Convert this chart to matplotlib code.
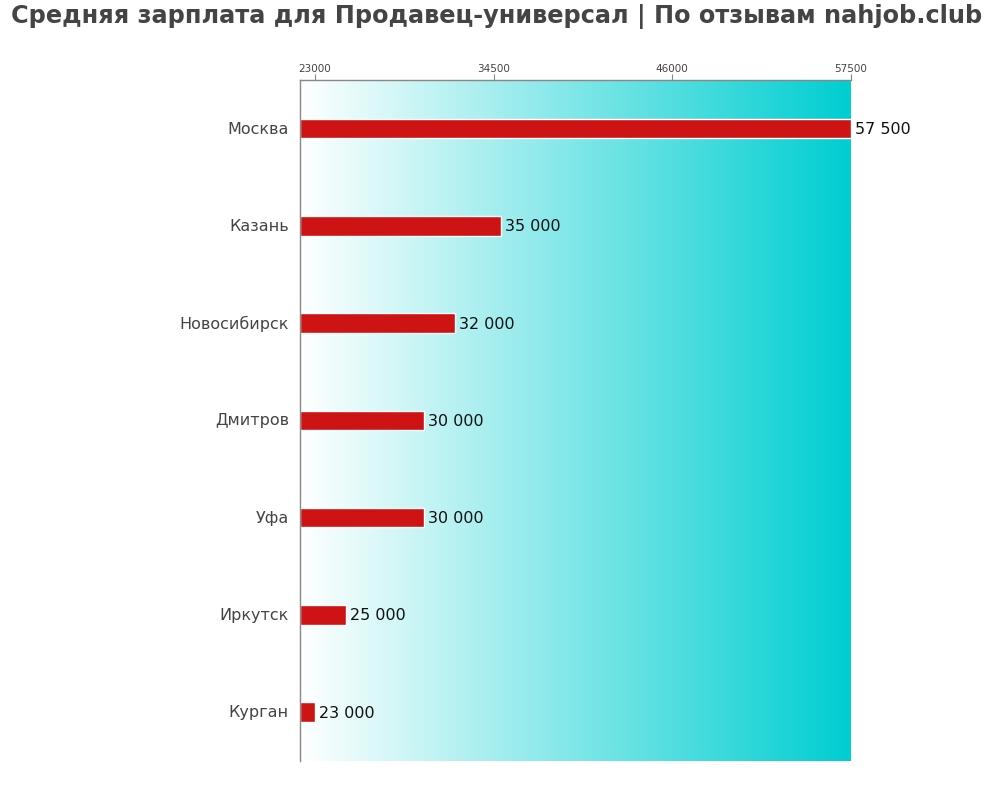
import numpy as np
import matplotlib
matplotlib.use("Agg")
import matplotlib.pyplot as plt
from matplotlib.colors import LinearSegmentedColormap

cities = ["Москва", "Казань", "Новосибирск", "Дмитров", "Уфа", "Иркутск", "Курган"]
salaries = [57500, 35000, 32000, 30000, 30000, 25000, 23000]
ticks = [23000, 34500, 46000, 57500]
title = "Средняя зарплата для Продавец-универсал | По отзывам nahjob.club"

x_min, x_max = 22050, 57500

fig = plt.figure(figsize=(10, 8), dpi=100)
ax = fig.add_axes([0.300, 0.049, 0.551, 0.851])

cmap = LinearSegmentedColormap.from_list("bg", ["#ffffff", "#00ced1"])
grad = np.linspace(0, 1, 256).reshape(1, -1)
ax.imshow(grad, cmap=cmap, aspect="auto", extent=[x_min, x_max, 6.5, -0.5], zorder=0)

y = np.arange(len(cities))
ax.barh(y, [s - x_min for s in salaries], left=x_min, height=0.2,
        color="#cd1314", edgecolor="white", linewidth=1, zorder=2)

for yi, s in zip(y, salaries):
    ax.text(s + 260, yi + 0.01, f"{s:,}".replace(",", " "), va="center", ha="left",
            fontsize=11.5, color="#111111", zorder=3)

ax.set_xlim(x_min, x_max)
ax.set_ylim(6.5, -0.5)
ax.set_yticks(y - 0.01)
ax.set_yticklabels(cities, fontsize=11.5, color="#444444")
ax.tick_params(axis="y", length=0, pad=8)
ax.xaxis.tick_top()
ax.set_xticks(ticks)
ax.set_xticklabels([str(t) for t in ticks], fontsize=7.5, color="#444444")
ax.tick_params(axis="x", length=4, color="#888888", pad=0.5)

for side in ["right", "bottom"]:
    ax.spines[side].set_visible(False)
for side in ["top", "left"]:
    ax.spines[side].set_color("#888888")
    ax.spines[side].set_linewidth(1)

fig.text(0.497, 0.979, title, ha="center", va="center", fontsize=17.3,
         fontweight="bold", color="#444444")

fig.savefig("out.png", dpi=100)
